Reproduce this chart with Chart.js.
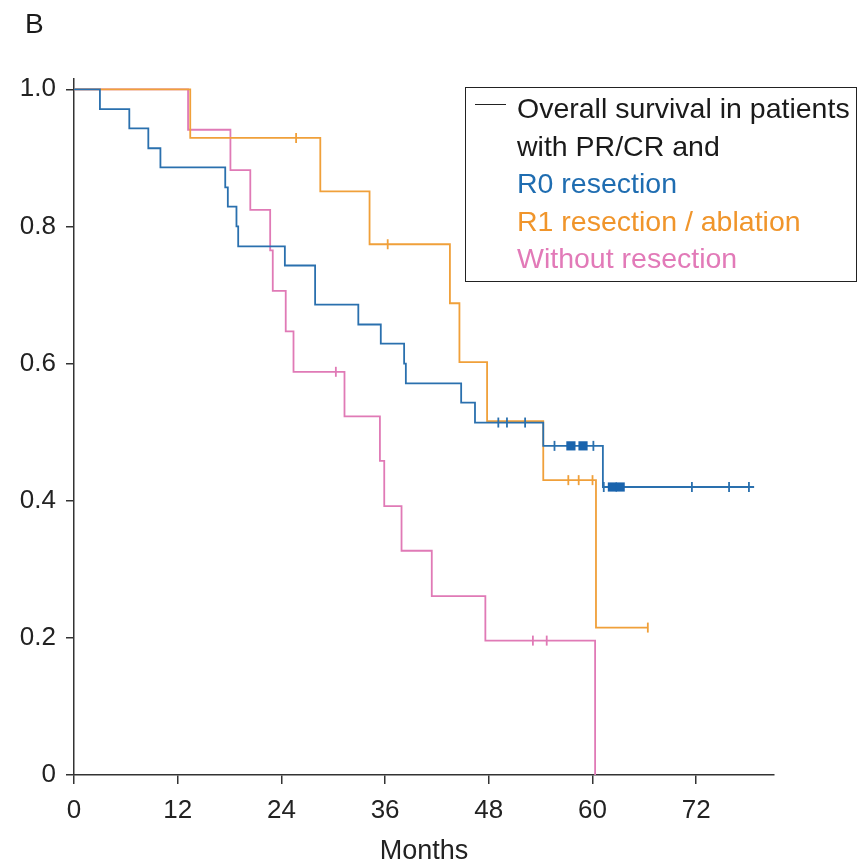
<!DOCTYPE html>
<html>
<head>
<meta charset="utf-8">
<script src="https://cdn.jsdelivr.net/npm/chart.js@4/dist/chart.umd.min.js"></script>
<style>
  body { margin: 0; background: #fff; }
  #wrap { position: relative; width: 864px; height: 865px; font-family: "Liberation Sans", Arial, sans-serif; color: #1a1a1a; }
  #chart { position: absolute; left: 0; top: 0; }
  #panel { position: absolute; left: 25px; top: 10px; font-size: 28px; line-height: 28px; }
  #legend { position: absolute; left: 465px; top: 87px; width: 390px; height: 193px; border: 1.5px solid #222; }
  #legend .mark { position: absolute; left: 9px; top: 16px; width: 31px; height: 0; border-top: 1.5px solid #222; }
  #legend .txt { position: absolute; left: 51px; top: 2px; font-size: 28.5px; line-height: 37.5px; white-space: nowrap; }
</style>
</head>
<body>
<div id="wrap">
  <canvas id="chart" width="864" height="865"></canvas>
  <div id="panel">B</div>
  <div id="legend">
    <div class="mark"></div>
    <div class="txt">
      <div>Overall survival in patients</div>
      <div>with PR/CR and</div>
      <div style="color:#1f6db1">R0 resection</div>
      <div style="color:#f0952b">R1 resection / ablation</div>
      <div style="color:#e27ab8">Without resection</div>
    </div>
  </div>
</div>
<script>
// Kaplan-Meier steps: time of each drop (months) and survival after it
var r0Times = [0, 3.0, 6.4, 8.6, 10.0, 17.5, 17.8, 18.8, 19.0, 24.4, 27.9, 32.9, 35.5, 38.2, 38.4, 44.8, 46.4, 54.3, 61.2, 78.7];
var r0Surv = [1, 0.971, 0.943, 0.914, 0.886, 0.857, 0.829, 0.800, 0.771, 0.743, 0.686, 0.657, 0.629, 0.600, 0.571, 0.543, 0.514, 0.480, 0.420, 0.420];
var r0Censored = [49.1, 50.1, 52.2, 55.6, 60.1, 61.3, 71.5, 75.8, 78.1];
var r0CensorBlocks = [57.5, 58.9, 62.3, 63.2];

var r1Times = [0, 13.45, 28.5, 34.2, 43.5, 44.6, 47.8, 54.3, 60.4, 66.4];
var r1Surv = [1, 0.929, 0.851, 0.774, 0.688, 0.602, 0.516, 0.430, 0.215, 0.215];
var r1Censored = [25.7, 36.3, 57.2, 58.4, 60.0, 66.4];

var noResTimes = [0, 13.2, 18.1, 20.4, 22.7, 23.0, 24.5, 25.4, 31.3, 35.4, 35.9, 37.9, 41.4, 47.6, 60.3];
var noResSurv = [1, 0.941, 0.882, 0.824, 0.765, 0.706, 0.647, 0.588, 0.523, 0.458, 0.392, 0.327, 0.261, 0.196, 0];
var noResCensored = [30.3, 53.1, 54.7];

var xTicks = [0, 12, 24, 36, 48, 60, 72];
var yTicks = [0, 0.2, 0.4, 0.6, 0.8, 1.0];

var blue = "#2a70ae";
var orange = "#f0a03a";
var pink = "#e07ab6";

function steps(times, surv) {
  var pts = [];
  for (var i = 0; i < times.length; i++) {
    pts.push({ x: times[i], y: surv[i] });
  }
  return pts;
}

// survival level of a curve at time t (for placing censor ticks)
function survAt(times, surv, t) {
  var s = surv[0];
  for (var i = 0; i < times.length; i++) {
    if (times[i] <= t) s = surv[i];
  }
  return s;
}

function censorPts(times, surv, cens) {
  return cens.map(function(t) {
    return { x: t, y: survAt(times, surv, t) };
  });
}

function curve(times, surv, color) {
  return {
    type: "line",
    data: steps(times, surv),
    borderColor: color,
    borderWidth: 1.8,
    stepped: true,
    pointRadius: 0,
    fill: false
  };
}

function ticks(times, surv, cens, color) {
  return {
    type: "scatter",
    data: censorPts(times, surv, cens),
    pointStyle: "line",
    rotation: 90,
    pointRadius: 5,
    borderColor: color,
    borderWidth: 1.8,
    backgroundColor: color
  };
}

var datasets = [
  ticks(r0Times, r0Surv, r0Censored, blue),
  {
    type: "scatter",
    data: censorPts(r0Times, r0Surv, r0CensorBlocks),
    pointStyle: "rect",
    pointRadius: 6.5,
    borderWidth: 0,
    backgroundColor: "#1a64ad"
  },
  curve(r0Times, r0Surv, blue),
  ticks(r1Times, r1Surv, r1Censored, orange),
  curve(r1Times, r1Surv, orange),
  ticks(noResTimes, noResSurv, noResCensored, pink),
  curve(noResTimes, noResSurv, pink)
];

var axisColor = "#333";
var tickFont = { family: "Liberation Sans", size: 26 };

var chart = new Chart(document.getElementById("chart").getContext("2d"), {
  type: "scatter",
  data: { datasets: datasets },
  options: {
    responsive: false,
    animation: false,
    layout: { padding: { top: 79, right: 90, bottom: 0, left: 0 } },
    plugins: { legend: { display: false }, tooltip: { enabled: false } },
    scales: {
      x: {
        type: "linear",
        min: 0,
        max: 81,
        afterBuildTicks: function(scale) {
          scale.ticks = xTicks.map(function(v) { return { value: v }; });
        },
        afterFit: function(scale) { scale.height = 90; },
        ticks: { font: tickFont, color: "#222", padding: 11, maxRotation: 0 },
        grid: { drawOnChartArea: false, drawTicks: true, tickLength: 9, color: axisColor, lineWidth: 1.5 },
        border: { display: true, color: axisColor, width: 1.5 },
        title: { display: true, text: "Months", font: { family: "Liberation Sans", size: 27 }, color: "#222", padding: { top: 0, bottom: -3 } }
      },
      y: {
        type: "linear",
        min: 0,
        max: 1.015,
        afterBuildTicks: function(scale) {
          scale.ticks = yTicks.map(function(v) { return { value: v }; });
        },
        afterFit: function(scale) { scale.width = 74; },
        ticks: {
          font: tickFont,
          color: "#222",
          padding: 10,
          callback: function(v) { return v === 0 ? "0" : v.toFixed(1); }
        },
        grid: { drawOnChartArea: false, drawTicks: true, tickLength: 8, color: axisColor, lineWidth: 1.5 },
        border: { display: true, color: axisColor, width: 1.5 }
      }
    }
  }
});
</script>
</body>
</html>
